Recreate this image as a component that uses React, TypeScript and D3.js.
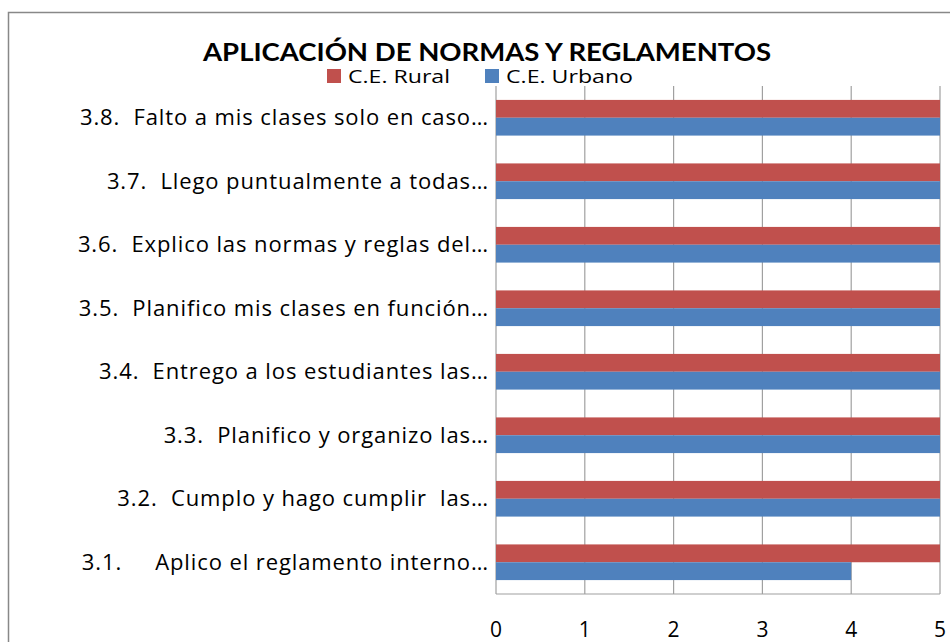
import React from 'react'
import * as d3 from 'd3'

const categories = [
  '3.1.     Aplico el reglamento interno…',
  '3.2.  Cumplo y hago cumplir  las…',
  '3.3.  Planifico y organizo las…',
  '3.4.  Entrego a los estudiantes las…',
  '3.5.  Planifico mis clases en función…',
  '3.6.  Explico las normas y reglas del…',
  '3.7.  Llego puntualmente a todas…',
  '3.8.  Falto a mis clases solo en caso…',
]
const rural = [5, 5, 5, 5, 5, 5, 5, 5]
const urbano = [4, 5, 5, 5, 5, 5, 5, 5]
const seriesNames = ['C.E. Rural', 'C.E. Urbano']
const ticks = [0, 1, 2, 3, 4, 5]

const W = 950
const H = 642
const colors = ['#C0504D', '#4F81BD']
const font = '"Open Sans", Lato, sans-serif'

export default function App() {
  //布局
  const [top, right, bottom, left] = [86, 10, 48, 496]
  const x = d3.scaleLinear().domain([0, 5]).range([left, W - right])
  // 3.8 on top, 3.1 at the bottom
  const y = d3.scaleBand<string>()
    .domain([...categories].reverse())
    .range([top, H - bottom])
  const group = y.bandwidth() / 1.78
  const barH = group / 2

  return (
    <svg width={W} height={H} style={{ position: 'absolute', left: 0, top: 0, background: '#fff' }}>
      <rect x={8.5} y={12.5} width={W + 20} height={H + 20} fill="#fff" stroke="#888" strokeWidth={1.5} />
      <text x={487} y={61} textAnchor="middle" fontFamily="Lato, sans-serif" fontWeight="bold" fontSize={25}
        textLength={568} lengthAdjust="spacingAndGlyphs">APLICACIÓN DE NORMAS Y REGLAMENTOS</text>
      {/* leyenda */}
      {seriesNames.map((s, i) => {
        const lx = [327, 485][i]
        return (
          <g key={s}>
            <rect x={lx} y={69} width={14} height={14} fill={colors[i]} />
            <text x={lx + 21} y={83} fontFamily={font} fontSize={18}
              textLength={[102, 127][i]} lengthAdjust="spacingAndGlyphs">{s}</text>
          </g>
        )
      })}
      {/* grid */}
      {ticks.map(t => (
        <g key={t}>
          <line x1={x(t)} x2={x(t)} y1={top} y2={H - bottom} stroke="#A0A0A0" strokeWidth={1.2} />
          <text x={x(t)} y={H - 5} textAnchor="middle" fontFamily={font} fontSize={21}>{t}</text>
        </g>
      ))}
      <line x1={left} x2={W - right} y1={H - bottom} y2={H - bottom} stroke="#A0A0A0" strokeWidth={1.2} />
      {/* barras */}
      {categories.map((c, i) => {
        const y0 = y(c)! + (y.bandwidth() - group) / 2
        return (
          <g key={c}>
            <rect x={x(0)} y={y0} width={x(rural[i]) - x(0)} height={barH} fill={colors[0]} />
            <rect x={x(0)} y={y0 + barH} width={x(urbano[i]) - x(0)} height={barH} fill={colors[1]} />
            <text x={489} y={y(c)! + y.bandwidth() / 2} dy="0.35em" textAnchor="end"
              fontFamily={font} fontSize={22} letterSpacing={0.9} style={{ whiteSpace: 'pre' }}>{c}</text>
          </g>
        )
      })}
    </svg>
  )
}
